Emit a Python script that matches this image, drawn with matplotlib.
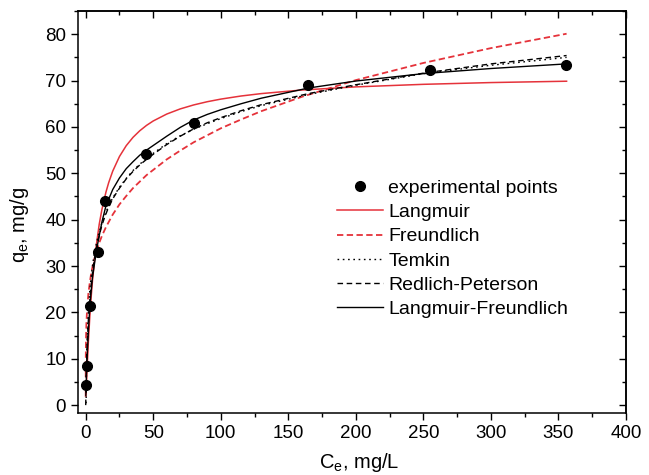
import matplotlib
matplotlib.use("Agg")
import matplotlib.pyplot as plt
from matplotlib.ticker import MultipleLocator

plt.rcParams["font.family"] = ["Liberation Sans", "DejaVu Sans"]
plt.rcParams["mathtext.default"] = "regular"

# Experimental equilibrium data
ce_exp = [0.5, 1.0, 2.9, 8.9, 14.3, 45.0, 80.5, 164.8, 255.0, 355.5]
qe_exp = [4.3, 8.4, 21.4, 33.1, 44.0, 54.1, 60.8, 69.0, 72.2, 73.3]

# Langmuir fit
ce_lang = [0.3, 0.5, 1, 2, 3, 4, 5, 7, 10, 12, 15, 17, 20, 25, 30, 35, 40, 45, 50, 60, 70,
           80, 90, 100, 115, 130, 160, 200, 250, 300, 356]
qe_lang = [2.48, 4.05, 7.66, 13.84, 18.93, 23.19, 26.81, 32.64, 39.0, 42.2, 45.96, 47.98,
           50.47, 53.63, 55.96, 57.75, 59.17, 60.33, 61.29, 62.78, 63.89, 64.75, 65.44, 66.0,
           66.67, 67.19, 67.96, 68.64, 69.19, 69.57, 69.86]

# Freundlich fit
ce_freu = [0.00003, 0.0001, 0.001, 0.01, 0.05, 0.2, 0.5, 1, 2, 3, 4, 5, 7, 10, 12, 15, 20,
           25, 30, 35, 45, 60, 70, 80, 100, 115, 130, 160, 200, 250, 300, 356]
qe_freu = [1.8, 2.4, 4.1, 7.0, 10.2, 14.1, 17.5, 20.5, 24.1, 26.4, 28.3, 29.8, 32.2, 35.0,
           36.5, 38.4, 41.1, 43.3, 45.1, 46.8, 49.6, 53.0, 54.9, 56.7, 59.7, 61.6, 63.4,
           66.5, 70.1, 73.8, 77.0, 80.1]

# Temkin fit
ce_temk = [0.3, 0.5, 0.7, 1, 1.5, 2, 3, 4, 5, 6, 8, 10, 12, 14, 16, 20, 25, 30, 35, 40, 45,
           50, 60, 70, 80, 90, 100, 115, 130, 165, 200, 250, 300, 356]
qe_temk = [0.4, 5.8, 9.3, 13.1, 17.4, 20.4, 24.7, 27.7, 30.0, 32.0, 35.0, 37.35, 39.3, 40.9,
           42.3, 44.7, 47.0, 48.9, 50.6, 51.96, 53.2, 54.3, 56.4, 58.1, 59.5, 60.7, 61.8,
           63.3, 64.6, 67.0, 69.0, 71.5, 73.3, 75.0]

# Redlich-Peterson fit
ce_rp = [0, 0.2, 0.5, 1, 2, 3, 4, 5, 6, 8, 10, 12, 14, 16, 20, 25, 30, 35, 40, 45, 50, 60,
         70, 80, 90, 100, 115, 130, 165, 200, 250, 300, 356]
qe_rp = [0, 3.5, 7.5, 12.5, 18.5, 22.5, 25.8, 28.5, 30.8, 34.0, 36.6, 38.8, 40.5, 42.0,
         44.5, 46.8, 48.8, 50.4, 51.8, 53.0, 54.1, 56.2, 58.0, 59.6, 60.9, 62.0, 63.5, 64.8,
         67.2, 69.1, 71.6, 73.6, 75.4]

# Langmuir-Freundlich fit
ce_lf = [0.2, 0.5, 1, 2, 3, 4, 5, 7, 9, 10, 12, 15, 20, 25, 30, 35, 40, 45, 50, 60, 70, 80,
         90, 100, 115, 130, 165, 200, 250, 300, 356]
qe_lf = [3.0, 6.0, 10.0, 16.0, 21.0, 24.5, 27.5, 31.5, 35.0, 36.5, 39.5, 43.0, 46.5, 49.0,
         51.0, 52.5, 53.9, 55.0, 56.0, 58.0, 59.9, 61.5, 62.7, 63.7, 65.0, 66.2, 68.4, 69.9,
         71.5, 72.6, 73.6]

RED = "#e5323a"

fig = plt.figure(figsize=(6.49, 4.75), dpi=100)
ax = fig.add_axes([0.1202, 0.1305, 0.8444, 0.8463])

ax.plot(ce_exp, qe_exp, "o", color="black", ms=7, zorder=5, label="experimental points")
ax.plot(ce_lang, qe_lang, "-", color=RED, lw=1.1, label="Langmuir")
ax.plot(ce_freu, qe_freu, "--", color=RED, lw=1.3, dashes=(3.5, 1.9), label="Freundlich")
ax.plot(ce_temk, qe_temk, ":", color="black", lw=1.0, dashes=(1.2, 2.6), label="Temkin")
ax.plot(ce_rp, qe_rp, "--", color="black", lw=1.0, dashes=(4, 2.6), label="Redlich-Peterson")
ax.plot(ce_lf, qe_lf, "-", color="black", lw=1.0, label="Langmuir-Freundlich")

ax.set_xlim(-5.7, 400)
ax.set_ylim(-1.7, 85)
ax.xaxis.set_major_locator(MultipleLocator(50))
ax.xaxis.set_minor_locator(MultipleLocator(25))
ax.yaxis.set_major_locator(MultipleLocator(10))
ax.yaxis.set_minor_locator(MultipleLocator(5))

for s in ax.spines.values():
    s.set_linewidth(1.1)

ax.tick_params(which="both", direction="out", width=1.0, labelsize=13.5, colors="black")
ax.tick_params(which="major", length=5)
ax.tick_params(which="minor", length=3)

# mirrored ticks on the top and right, pointing inward
top = ax.secondary_xaxis("top")
top.xaxis.set_major_locator(MultipleLocator(50))
top.xaxis.set_minor_locator(MultipleLocator(25))
top.tick_params(which="both", direction="in", width=1.0, labeltop=False)
top.tick_params(which="major", length=5)
top.tick_params(which="minor", length=3)
right = ax.secondary_yaxis("right")
right.yaxis.set_major_locator(MultipleLocator(10))
right.yaxis.set_minor_locator(MultipleLocator(5))
right.tick_params(which="both", direction="in", width=1.0, labelright=False)
right.tick_params(which="major", length=5)
right.tick_params(which="minor", length=3)
for sa in (top, right):
    for s in sa.spines.values():
        s.set_linewidth(1.1)

ax.set_xlabel("C$_e$, mg/L", fontsize=14.5)
ax.set_ylabel("q$_e$, mg/g", fontsize=14.5)
ax.xaxis.set_label_coords(0.513, -0.095)
ax.yaxis.set_label_coords(-0.086, 0.468)

ax.legend(loc="upper left", bbox_to_anchor=(0.519, 0.623), bbox_transform=fig.transFigure,
          frameon=False, fontsize=14, handlelength=2.37, handletextpad=0.27,
          labelspacing=0.345, borderpad=0, borderaxespad=0)

fig.savefig("out.png", dpi=100)
